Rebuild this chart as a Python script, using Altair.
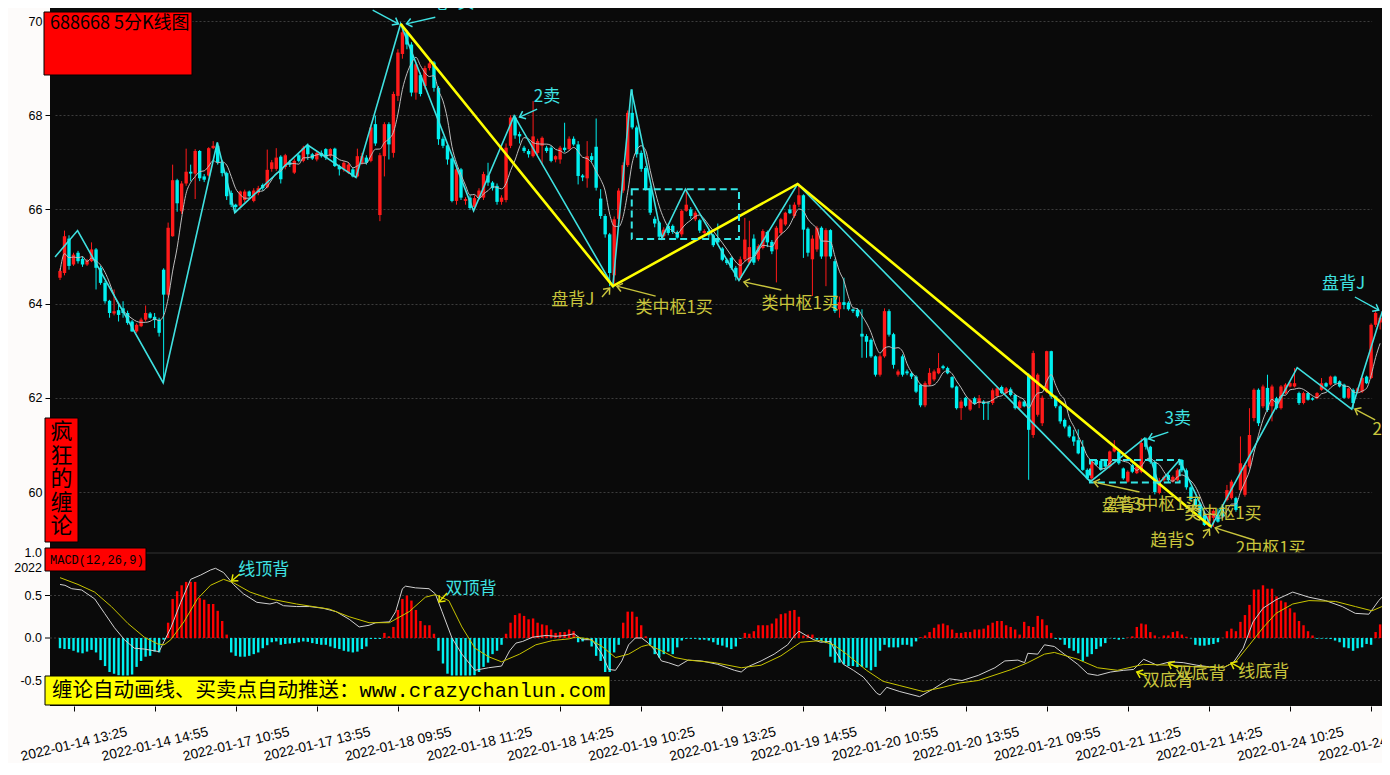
import math
import altair as alt
import pandas as pd

# ---------------- data ----------------
opens = [
    64.55, 64.65, 65.38, 64.83, 65.08, 64.95, 64.83, 64.90, 65.15, 64.76,
    64.44, 64.06, 63.79, 63.86, 63.90, 63.80, 63.62, 63.41, 63.52, 63.66,
    63.79, 63.72, 63.66, 64.72, 64.19, 65.43, 66.62, 65.96, 66.55, 66.80,
    66.76, 67.24, 66.70, 66.72, 67.30, 67.35, 67.00, 66.77, 66.35, 66.10,
    66.08, 66.20, 66.38, 66.18, 66.35, 66.52, 66.47, 66.86, 66.86, 67.12,
    66.90, 67.00, 66.78, 67.15, 67.03, 67.35, 67.17, 67.06, 67.20, 67.28,
    67.14, 67.29, 66.92, 66.85, 66.78, 66.85, 66.70, 66.99, 67.10, 67.03,
    67.81, 65.88, 67.13, 67.81, 67.20, 68.41, 69.30, 69.76, 69.50, 68.48,
    68.85, 68.62, 69.00, 69.12, 68.58, 67.50, 67.36, 67.08, 66.18, 66.85,
    66.18, 66.25, 66.05, 66.25, 66.25, 66.72, 66.57, 66.50, 66.16, 66.20,
    67.35, 67.95, 67.60, 67.31, 67.24, 67.13, 67.20, 67.35, 67.31, 67.31,
    67.06, 67.06, 67.31, 67.28, 67.50, 67.38, 66.72, 66.66, 67.13, 67.33,
    66.23, 65.86, 65.47, 64.60, 65.80, 66.40, 66.94, 68.05, 67.74, 67.20,
    66.88, 66.45, 65.80, 65.72, 65.43, 65.65, 65.65, 65.52, 65.47, 65.97,
    66.00, 65.79, 65.77, 65.50, 65.54, 65.45, 65.35, 65.17, 64.93, 64.97,
    64.76, 64.55, 64.94, 64.87, 65.38, 64.94, 65.18, 65.52, 65.31, 65.15,
    65.50, 65.68, 66.00, 65.86, 66.10, 66.30, 65.59, 64.94, 65.15, 65.61,
    65.00, 65.56, 64.90, 63.88, 64.03, 64.02, 63.88, 63.87, 63.36, 63.31,
    63.23, 62.88, 62.49, 62.88, 63.84, 63.35, 62.49, 62.88, 62.56, 62.52,
    62.45, 62.28, 61.84, 62.28, 62.39, 62.52, 62.67, 62.63, 62.44, 62.24,
    61.78, 62.00, 61.75, 61.99, 61.89, 61.92, 61.90, 61.89, 62.04, 62.23,
    62.10, 62.18, 62.06, 61.78, 61.92, 62.49, 61.21, 61.64, 61.46, 62.13,
    62.99, 62.03, 61.82, 61.53, 61.39, 61.18, 61.10, 60.96, 60.47, 60.29,
    60.68, 60.66, 60.68, 60.54, 60.86, 60.86, 60.50, 60.22, 60.57, 60.40,
    60.43, 61.14, 60.96, 60.64, 59.98, 60.25, 60.36, 60.22, 60.25, 60.68,
    60.46, 60.10, 59.85, 59.75, 59.50, 59.30, 59.45, 59.51, 59.69, 59.83,
    59.87, 59.87, 60.04, 59.94, 60.54, 61.57, 62.17, 61.82, 62.21, 61.82,
    61.99, 61.78, 62.10, 62.24, 62.24, 62.10, 61.89, 62.10, 61.99, 61.99,
    62.17, 62.31, 62.28, 62.45, 62.35, 62.28, 62.00, 62.17, 62.13, 62.13,
    62.45, 62.42, 63.55, 63.60,
]
closes = [
    64.69, 65.43, 64.80, 65.04, 64.90, 64.83, 64.91, 65.15, 64.76, 64.44,
    64.05, 63.80, 63.84, 63.76, 63.80, 63.59, 63.41, 63.55, 63.66, 63.80,
    63.70, 63.65, 63.38, 64.19, 65.61, 66.62, 66.13, 66.55, 66.80, 66.76,
    67.24, 66.66, 66.63, 67.30, 67.35, 67.00, 66.77, 66.28, 66.10, 66.05,
    66.38, 66.38, 66.28, 66.40, 66.45, 66.45, 66.84, 67.00, 67.10, 66.64,
    67.15, 66.95, 67.03, 67.03, 67.31, 67.17, 67.08, 67.20, 67.13, 67.10,
    67.28, 66.92, 66.85, 66.99, 66.95, 66.70, 67.13, 67.13, 66.99, 67.74,
    67.40, 67.15, 67.81, 67.38, 68.45, 69.33, 69.76, 69.50, 68.48, 69.08,
    68.45, 69.00, 69.10, 68.58, 67.49, 67.35, 67.06, 66.18, 66.85, 66.25,
    66.22, 66.03, 66.24, 66.40, 66.75, 66.57, 66.45, 66.16, 66.25, 67.31,
    67.95, 67.57, 67.55, 67.24, 67.17, 67.55, 67.45, 67.52, 67.24, 67.03,
    67.13, 67.31, 67.26, 67.50, 67.38, 66.71, 66.68, 67.13, 67.05, 66.46,
    65.86, 65.47, 64.65, 65.79, 66.40, 66.94, 68.05, 67.74, 67.17, 66.86,
    66.43, 65.93, 65.70, 65.42, 65.57, 65.50, 65.52, 65.40, 65.97, 66.10,
    65.86, 65.93, 65.55, 65.54, 65.45, 65.24, 65.30, 64.93, 64.86, 64.76,
    64.57, 64.94, 65.36, 65.20, 64.87, 65.22, 65.54, 65.30, 65.11, 65.61,
    65.79, 65.93, 65.92, 66.10, 66.30, 65.57, 65.08, 65.38, 65.61, 65.00,
    65.56, 65.00, 63.84, 64.03, 63.97, 63.88, 63.84, 63.73, 63.30, 63.19,
    62.88, 62.49, 62.88, 63.84, 63.34, 62.70, 62.56, 62.49, 62.52, 62.45,
    62.13, 61.84, 62.31, 62.53, 62.56, 62.63, 62.63, 62.52, 62.22, 61.78,
    61.92, 61.83, 61.95, 61.87, 61.99, 61.87, 61.88, 62.16, 62.20, 62.10,
    62.20, 62.06, 61.78, 61.92, 61.82, 61.32, 62.95, 62.49, 62.00, 62.99,
    62.03, 61.82, 61.50, 61.39, 61.18, 61.07, 60.82, 60.47, 60.29, 60.64,
    60.58, 60.47, 60.54, 60.86, 60.96, 60.61, 60.29, 60.43, 60.43, 60.54,
    61.04, 60.96, 60.64, 60.00, 60.25, 60.32, 60.25, 60.32, 60.46, 60.46,
    60.10, 59.85, 59.70, 59.45, 59.30, 59.50, 59.60, 59.37, 59.48, 60.04,
    60.22, 59.62, 60.61, 60.57, 61.21, 62.17, 61.46, 62.24, 61.74, 62.24,
    61.78, 62.24, 62.28, 62.31, 62.31, 61.89, 62.10, 61.96, 61.96, 62.10,
    62.31, 62.24, 62.45, 62.31, 62.24, 62.00, 62.20, 61.89, 62.20, 62.42,
    62.31, 63.55, 63.80, 63.70,
]
highs = [
    64.75, 65.55, 65.45, 65.08, 65.12, 65.00, 64.95, 65.30, 65.18, 64.80,
    64.48, 64.08, 64.30, 64.00, 64.05, 63.85, 63.65, 63.58, 63.70, 63.96,
    63.82, 63.80, 63.70, 64.75, 65.72, 66.95, 66.65, 66.60, 67.29, 66.95,
    67.28, 67.26, 66.75, 67.32, 67.45, 67.42, 67.05, 66.80, 66.40, 66.12,
    66.40, 66.42, 66.40, 66.45, 66.50, 66.55, 67.27, 67.05, 67.30, 67.15,
    67.18, 67.05, 67.08, 67.18, 67.35, 67.40, 67.20, 67.24, 67.25, 67.30,
    67.30, 67.31, 66.95, 67.02, 67.00, 66.88, 67.29, 67.20, 67.15, 67.80,
    67.99, 67.20, 67.85, 67.85, 68.50, 69.40, 69.94, 69.80, 69.55, 69.12,
    68.90, 69.05, 69.20, 69.15, 68.62, 67.55, 67.40, 67.10, 66.90, 66.88,
    66.26, 66.30, 66.30, 66.45, 66.80, 66.99, 66.60, 66.55, 66.30, 67.40,
    68.00, 68.00, 67.65, 67.35, 67.28, 68.30, 67.50, 67.55, 67.35, 67.35,
    67.15, 67.35, 67.84, 67.55, 67.55, 67.45, 66.75, 67.45, 67.20, 67.93,
    66.43, 65.90, 65.50, 65.85, 66.45, 67.00, 68.10, 68.55, 67.78, 67.25,
    66.92, 66.50, 65.85, 65.75, 65.62, 65.70, 65.68, 65.55, 66.00, 66.43,
    66.05, 65.97, 65.80, 65.58, 65.58, 65.48, 65.70, 65.20, 64.96, 65.00,
    64.80, 65.00, 65.82, 65.76, 65.47, 65.26, 65.58, 65.55, 65.35, 65.65,
    65.82, 65.95, 66.10, 66.15, 66.55, 66.32, 65.62, 65.45, 65.65, 65.64,
    65.60, 65.58, 64.95, 64.15, 64.55, 64.05, 63.90, 63.90, 63.88, 63.35,
    63.26, 62.90, 62.92, 63.90, 63.88, 63.38, 62.60, 62.92, 62.60, 62.55,
    62.48, 62.30, 62.35, 62.63, 62.60, 62.95, 62.70, 62.66, 62.46, 62.26,
    61.96, 62.02, 61.98, 62.02, 62.06, 61.95, 61.92, 62.20, 62.23, 62.26,
    62.23, 62.22, 62.08, 61.95, 61.95, 62.52, 63.00, 62.52, 62.05, 63.00,
    63.00, 62.05, 61.85, 61.56, 61.42, 61.32, 61.33, 61.10, 60.50, 60.68,
    60.70, 60.70, 60.70, 60.88, 61.10, 60.90, 60.52, 60.46, 60.60, 60.57,
    61.14, 61.16, 60.98, 60.68, 60.30, 60.35, 60.40, 60.35, 60.50, 60.70,
    60.50, 60.12, 59.90, 59.78, 59.55, 59.55, 59.65, 59.65, 59.72, 60.15,
    60.26, 59.90, 61.18, 60.62, 61.78, 62.20, 62.20, 62.28, 62.49, 62.28,
    62.02, 62.27, 62.31, 62.35, 62.63, 62.13, 62.13, 62.12, 62.01, 62.12,
    62.42, 62.33, 62.47, 62.47, 62.37, 62.30, 62.22, 62.20, 62.22, 62.45,
    62.47, 63.58, 63.84, 63.75,
]
lows = [
    64.50, 64.60, 64.72, 64.80, 64.85, 64.78, 64.80, 64.88, 64.30, 64.40,
    64.00, 63.70, 63.75, 63.62, 63.70, 63.55, 63.40, 63.38, 63.50, 63.62,
    63.68, 63.48, 63.30, 62.32, 64.15, 65.42, 65.95, 65.90, 66.50, 66.60,
    66.22, 66.60, 66.58, 66.70, 67.28, 66.95, 66.70, 66.20, 66.05, 65.93,
    66.05, 66.15, 66.25, 66.15, 66.30, 66.40, 66.45, 66.80, 66.82, 66.55,
    66.85, 66.90, 66.75, 67.00, 67.00, 67.05, 67.05, 67.02, 67.10, 67.05,
    67.10, 66.90, 66.72, 66.80, 66.75, 66.68, 66.68, 66.95, 66.95, 67.00,
    67.35, 65.75, 66.70, 67.06, 67.10, 68.30, 69.20, 69.40, 68.40, 68.33,
    68.40, 68.55, 68.95, 68.50, 67.37, 67.30, 66.95, 66.15, 66.10, 66.20,
    66.10, 65.99, 66.00, 66.20, 66.20, 66.50, 66.40, 66.10, 66.10, 66.15,
    67.30, 67.50, 67.40, 67.20, 67.10, 67.10, 67.15, 66.95, 67.20, 67.00,
    67.00, 66.97, 67.22, 67.25, 67.35, 66.53, 66.60, 66.46, 67.00, 66.40,
    65.80, 65.40, 64.37, 64.40, 65.75, 66.35, 66.90, 67.70, 67.10, 66.80,
    66.40, 65.88, 65.62, 65.39, 65.40, 65.45, 65.48, 65.38, 65.42, 65.95,
    65.80, 65.75, 65.50, 65.47, 65.40, 65.20, 65.25, 64.90, 64.82, 64.72,
    64.49, 64.50, 64.90, 64.85, 64.82, 64.90, 65.15, 65.20, 65.05, 64.45,
    65.45, 65.65, 65.90, 65.82, 66.05, 64.97, 65.00, 64.16, 65.10, 64.95,
    64.37, 64.95, 63.80, 63.70, 63.88, 63.85, 63.80, 63.70, 62.85, 62.85,
    62.85, 62.45, 62.45, 62.85, 63.30, 62.62, 62.45, 62.45, 62.48, 62.40,
    62.10, 61.80, 61.80, 62.25, 62.35, 62.50, 62.60, 62.50, 62.20, 61.75,
    61.53, 61.80, 61.72, 61.85, 61.78, 61.53, 61.53, 61.85, 62.00, 62.08,
    62.08, 62.03, 61.75, 61.75, 61.80, 60.26, 61.15, 61.60, 61.40, 62.10,
    61.98, 61.78, 61.45, 61.35, 61.15, 60.98, 60.80, 60.45, 60.26, 60.22,
    60.55, 60.45, 60.50, 60.50, 60.84, 60.58, 60.26, 60.20, 60.40, 60.38,
    60.40, 60.90, 60.60, 59.95, 59.95, 60.22, 60.20, 60.20, 60.22, 60.42,
    60.05, 59.80, 59.65, 59.40, 59.28, 59.26, 59.26, 59.35, 59.45, 59.80,
    59.84, 59.58, 60.00, 59.90, 60.50, 61.50, 61.40, 61.78, 61.70, 61.50,
    61.75, 61.75, 62.08, 62.22, 62.22, 61.85, 61.86, 61.94, 61.94, 61.97,
    62.15, 62.22, 62.26, 62.29, 62.22, 61.98, 61.98, 61.76, 62.10, 62.10,
    62.29, 62.40, 63.50, 63.45,
]
macd_hist = [
    -0.12, -0.13, -0.13, -0.15, -0.17, -0.18, -0.16, -0.14, -0.17, -0.26,
    -0.33, -0.40, -0.42, -0.44, -0.45, -0.45, -0.43, -0.34, -0.27, -0.22,
    -0.21, -0.16, -0.17, -0.02, 0.18, 0.46, 0.55, 0.62, 0.66, 0.66,
    0.66, 0.47, 0.45, 0.40, 0.40, 0.32, 0.20, 0.04, -0.17, -0.21,
    -0.22, -0.22, -0.21, -0.19, -0.17, -0.12, -0.085, -0.05, -0.04, -0.08,
    -0.07, -0.065, -0.06, -0.05, -0.04, -0.045, -0.06, -0.07, -0.08, -0.08,
    -0.10, -0.12, -0.13, -0.15, -0.16, -0.17, -0.16, -0.13, -0.10, -0.012,
    -0.012, -0.012, 0.06, 0.02, 0.13, 0.33, 0.46, 0.50, 0.44, 0.33,
    0.20, 0.15, 0.15, 0.05, -0.15, -0.30, -0.42, -0.48, -0.52, -0.55,
    -0.52, -0.48, -0.44, -0.40, -0.34, -0.29, -0.19, -0.15, -0.08, 0.05,
    0.18, 0.27, 0.29, 0.26, 0.22, 0.23, 0.18, 0.16, 0.15, 0.10,
    0.06, 0.07, 0.07, 0.10, 0.08, -0.05, -0.04, -0.02, -0.10, -0.21,
    -0.27, -0.40, -0.40, -0.17, -0.08, 0.18, 0.31, 0.31, 0.25, 0.15,
    0.02, -0.08, -0.19, -0.23, -0.19, -0.16, -0.19, -0.11, -0.03, -0.01,
    -0.01, -0.01, -0.02, -0.02, -0.03, -0.05, -0.08, -0.09, -0.11, -0.13,
    -0.10, -0.01, 0.06, 0.05, 0.08, 0.15, 0.15, 0.15, 0.17, 0.23,
    0.28, 0.29, 0.32, 0.33, 0.25, 0.03, 0.04, 0.04, -0.02, -0.04,
    -0.06, -0.22, -0.29, -0.29, -0.31, -0.33, -0.33, -0.34, -0.34, -0.35,
    -0.38, -0.34, -0.15, -0.08, -0.11, -0.11, -0.11, -0.08, -0.08, -0.10,
    -0.04, 0.01, 0.03, 0.07, 0.12, 0.16, 0.17, 0.15, 0.10, 0.06,
    0.06, 0.07, 0.07, 0.10, 0.10, 0.11, 0.15, 0.18, 0.20, 0.20,
    0.15, 0.13, 0.10, 0.04, 0.19, 0.14, 0.13, 0.26, 0.22, 0.15,
    0.06, -0.01, -0.02, -0.08, -0.12, -0.15, -0.18, -0.27, -0.22, -0.19,
    -0.13, -0.10, -0.06, -0.005, -0.01, -0.02, -0.01, 0.005, 0.02, 0.13,
    0.17, 0.16, 0.07, 0.03, 0.005, 0.03, 0.03, 0.07, 0.08, 0.04,
    0.015, -0.005, -0.08, -0.09, -0.09, -0.08, -0.07, -0.05, 0.003, 0.08,
    0.11, 0.08, 0.19, 0.27, 0.39, 0.57, 0.57, 0.62, 0.58, 0.58,
    0.49, 0.44, 0.42, 0.35, 0.30, 0.20, 0.15, 0.08, 0.03, -0.008,
    -0.008, -0.008, -0.012, -0.03, -0.05, -0.11, -0.12, -0.15, -0.12, -0.11,
    -0.07, -0.08, 0.07, 0.16,
]
dif_bar = [0, 1.1, 2.6, 4.8, 7.7, 9.9, 12.1, 14.3, 16.5, 18.7, 20.9, 22, 23.1, 24.6, 26.8, 29, 31.2, 33.4, 34.5,
           36.3, 38.5, 40.7, 43.7, 46.6, 48.1, 49.6, 52.5, 55.4, 58.4, 61.3, 64.2, 66.4, 68.6, 70.1, 73.1, 74.5,
           76, 76.7, 78.9, 81.9, 83.3, 84.8, 87, 89.2, 92.1, 95.1, 98, 99.8, 101.2, 102.7, 104.9, 107.9, 110.1,
           112.3, 114.1, 115.9, 118.1, 120.3, 121.8, 123.3, 124.7, 126.2, 127.7, 129.1, 130.6, 132.1, 133.5, 135,
           137.2, 139.4, 142.4, 146, 149.7, 151.2, 152.6, 155.6, 158.5, 161.5, 162.9, 164, 165.9, 167.3, 168.8,
           171, 171.7, 173.9, 176.1, 178.3, 181.3, 182, 183.5, 186.4, 190.8, 193.8, 197.4, 200.2, 203.8, 207.5,
           209.7, 212.6, 214.1, 214.8, 217, 218.5, 220.7, 222.9, 225.9, 228.1, 230.3, 233.2, 236.1, 238.3, 240.5,
           243.5, 246.4, 249.3, 252.3, 255.2, 258.2, 260.4, 262.6, 264.8, 267, 269.9, 273.6, 277.2, 280.9, 284.6,
           287.5, 290.5, 292.7, 293.4]
dif_val = [0.63, 0.62, 0.58, 0.565, 0.46, 0.29, 0.12, -0.02, -0.12, -0.13, -0.15, -0.16, -0.04, 0.12, 0.42, 0.69,
           0.74, 0.80, 0.82, 0.77, 0.63, 0.52, 0.42, 0.40, 0.42, 0.38, 0.37, 0.37, 0.35, 0.31, 0.22, 0.13, 0.15,
           0.18, 0.19, 0.31, 0.58, 0.61, 0.59, 0.58, 0.52, 0.31, 0.0, -0.19, -0.38, -0.35, -0.33, -0.15, -0.06,
           -0.04, 0.01, 0.03, 0.02, 0.03, 0.05, -0.02, -0.02, -0.19, -0.37, -0.38, -0.27, -0.08, 0.0, 0.0, -0.06,
           -0.15, -0.27, -0.29, -0.33, -0.26, -0.27, -0.31, -0.38, -0.40, -0.34, -0.27, -0.19, -0.08, 0.02, 0.08,
           0.02, -0.02, -0.05, -0.04, -0.12, -0.31, -0.38, -0.46, -0.65, -0.67, -0.58, -0.63, -0.69, -0.60, -0.48,
           -0.50, -0.44, -0.35, -0.27, -0.26, -0.29, -0.18, -0.19, -0.08, -0.10, -0.19, -0.31, -0.42, -0.44, -0.40,
           -0.38, -0.37, -0.25, -0.32, -0.28, -0.29, -0.32, -0.34, -0.35, -0.29, -0.12, 0.19, 0.35, 0.45, 0.54,
           0.48, 0.44, 0.37, 0.29, 0.28, 0.44, 0.48]
dea_bar = [0, 4, 7.7, 11.4, 15.1, 18.7, 21.7, 23.1, 24.6, 27.5, 30.5, 33.4, 36.3, 38.5, 42.2, 46.6, 52.5, 59.8,
           64.2, 68.6, 73.1, 77.5, 81.1, 83.3, 86.3, 89.2, 92.1, 95.1, 98, 102, 105.6, 109.3, 113, 114.4, 117.4,
           120.3, 123.3, 126.2, 129.1, 130.6, 133.5, 136.5, 139.4, 145.3, 151.2, 155.6, 160, 164.4, 168.8, 171.7,
           174.6, 179, 182.7, 186.4, 191.6, 196, 199.6, 203.8, 211.2, 214.8, 218.5, 220.7, 225.9, 230.3, 234.7,
           240.5, 246.4, 252.3, 258.2, 261.1, 264, 267, 269.9, 273.6, 277.2, 283.1, 287.5, 291.2, 293.4]
dea_val = [0.71, 0.63, 0.54, 0.37, 0.17, 0.01, -0.07, -0.08, -0.02, 0.19, 0.46, 0.62, 0.69, 0.65, 0.54, 0.46,
           0.40, 0.34, 0.25, 0.18, 0.18, 0.31, 0.48, 0.51, 0.44, 0.13, -0.12, -0.22, -0.28, -0.19, -0.08, -0.03,
           -0.01, 0.01, -0.01, -0.10, -0.23, -0.19, -0.10, -0.08, -0.15, -0.23, -0.26, -0.29, -0.35, -0.32, -0.21,
           -0.05, -0.03, -0.08, -0.19, -0.38, -0.51, -0.56, -0.63, -0.58, -0.53, -0.50, -0.37, -0.29, -0.19, -0.17,
           -0.25, -0.35, -0.38, -0.31, -0.32, -0.34, -0.35, -0.27, -0.08, 0.12, 0.29, 0.40, 0.44, 0.43, 0.37,
           0.32, 0.37]

# stroke (bi) vertices and segment vertices
bi_bar = [-1.1, 3.9, 22.9, 34.9, 38.8, 54.9, 65.7, 75.6, 91.8, 100.8, 122.7, 126.8, 133.6, 138.8, 150.7,
          163.7, 228.7, 240.7, 243.8, 248.5, 255.5, 274.6, 286.7, 293.5]
bi_price = [64.99, 65.55, 62.32, 67.42, 65.93, 67.37, 66.68, 69.94, 65.97, 67.99, 64.37, 68.55, 65.39, 66.43,
            64.49, 66.54, 60.22, 61.14, 60.17, 60.68, 59.26, 62.64, 61.76, 63.84]
seg_bar = [75.6, 122.7, 163.7, 255.5]
seg_price = [69.94, 64.37, 66.54, 59.26]

# pivot boxes
box_bar0 = [126.9, 228.6]
box_bar1 = [150.7, 248.5]
box_lo = [65.37, 60.20]
box_hi = [66.43, 60.68]

# x tick labels
tick_bars = [3, 21, 39, 57, 75, 93, 111, 129, 147, 165, 183, 201, 219, 237, 255, 273, 291]
tick_labels = ["2022-01-14 13:25", "2022-01-14 14:55", "2022-01-17 10:55", "2022-01-17 13:55",
               "2022-01-18 09:55", "2022-01-18 11:25", "2022-01-18 14:25", "2022-01-19 10:25",
               "2022-01-19 13:25", "2022-01-19 14:55", "2022-01-20 10:55", "2022-01-20 13:55",
               "2022-01-21 09:55", "2022-01-21 11:25", "2022-01-21 14:25", "2022-01-24 10:25",
               "2022-01-24 13:25"]

# annotations (price panel)
ann_text = ["盘背J", "5笔1卖", "2卖", "3卖", "盘背J",
            "盘背J", "类中枢1买", "类中枢1买", "盘背S", "2笔3中枢1买", "类中枢1买", "趋背S", "2中枢1买", "23买"]
ann_bar = [67.4, 86.1, 108.1, 248.1, 284.9, 113.8, 136.3, 164.3, 236.1, 242.7, 258.1, 246.9, 268.7, 295.3]
ann_price = [70.51, 70.38, 68.38, 61.56, 64.41, 64.07, 63.90, 64.00, 59.70, 59.72, 59.53, 58.96, 58.79, 61.32]
ann_kind = ["c", "c", "c", "c", "c", "y", "y", "y", "y", "y", "y", "y", "y", "y"]

# annotations (MACD panel)
mac_text = ["线顶背", "双顶背", "双底背", "双底背", "线底背"]
mac_bar = [45.2, 91.2, 246.0, 253.1, 267.2]
mac_val = [0.80, 0.576, -0.506, -0.42, -0.40]
mac_kind = ["c", "c", "y", "y", "y"]

# arrows: tail -> tip
arr_panel = ["p"] * 12 + ["m"] * 5
arr_kind = ["c", "c", "c", "c", "c", "y", "y", "y", "y", "y", "y", "y", "m", "m", "m", "m", "m"]
arr_b0 = [69.4, 83.3, 105.9, 246.0, 287.4, 120.3, 132.2, 160.1, 239.6, 253.7, 265.0, 291.9,
          39.9, 85.9, 241.2, 248.2, 262.1]
arr_v0 = [70.23, 70.08, 68.13, 61.27, 64.14, 64.14, 64.16, 64.29, 60.00, 59.02, 58.98, 61.53,
          0.753, 0.529, -0.447, -0.353, -0.353]
arr_b1 = [75.1, 76.9, 102.0, 241.6, 292.7, 122.0, 123.6, 151.8, 229.5, 255.1, 256.4, 287.4,
          38.1, 84.1, 239.0, 246.0, 259.9]
arr_v1 = [69.94, 69.94, 67.96, 61.13, 63.86, 64.33, 64.37, 64.46, 60.21, 59.21, 59.24, 61.76,
          0.671, 0.424, -0.40, -0.294, -0.294]

# ---------------- styling ----------------
RED = "#ff1a1a"
CYAN = "#00f0f0"
BI = "#3fe0e0"
ANN_C = "#3fe3e3"
ANN_Y = "#c8c43c"
ARR_M = "#e6e600"
CJK = "Noto Sans CJK SC"
BX = 4.54          # px per bar
PXP = 47.1         # px per price unit
PXM = 85.0         # px per macd unit
PW = 1332          # plot width (keeps the page free of overflow)

XS = alt.Scale(domain=[0, 290], range=[5, 5 + 290 * BX])
PY = alt.Scale(domain=[60, 70], range=[484, 13])
MY = alt.Scale(domain=[-0.5, 1.0], range=[672.5, 545])

label_expr = "[" + ",".join("'%s'" % t for t in tick_labels) + "][round((datum.value-3)/18)]"
XAX = alt.Axis(values=tick_bars, labelExpr=label_expr, title=None, grid=False, domain=False,
               ticks=True, tickColor="#000000", tickSize=5, labelAngle=-13.5, labelAlign="center",
               labelBaseline="middle", labelPadding=33, labelFont="Liberation Sans",
               labelFontSize=13.8, labelColor="#000000", labelOverlap=False, labelFlush=False)
YAX = alt.Axis(values=[60, 62, 64, 66, 68, 70], title=None, grid=True, gridColor="#3c3c3c",
               gridDash=[2, 2], gridWidth=1, domain=False, tickColor="#000000", tickSize=5,
               labelPadding=3, labelFont="Liberation Sans", labelFontSize=12.5,
               labelColor="#000000", format="d")


def X(field="i"):
    return alt.X(f"{field}:Q", scale=XS, axis=XAX)


n = len(opens)
df = pd.DataFrame({"i": list(range(n)), "open": opens, "close": closes, "high": highs,
                   "low": lows, "hist": macd_hist})

updown = alt.condition("datum.close >= datum.open", alt.value(RED), alt.value(CYAN))

wicks = alt.Chart(df).mark_rule(strokeWidth=1, clip=True).encode(
    x=X(), y=alt.Y("low:Q", scale=PY, axis=YAX), y2="high:Q", color=updown)
bodies = alt.Chart(df).mark_bar(size=3.4, clip=True).encode(
    x=X(), y=alt.Y("open:Q", scale=PY, axis=None), y2="close:Q", color=updown)
ma = alt.Chart(df).transform_window(ma="mean(close)", frame=[-4, 0], sort=[alt.SortField("i")]).mark_line(
    color="#bdbdbd", strokeWidth=1, interpolate="monotone", clip=True).encode(
    x=X(), y=alt.Y("ma:Q", scale=PY, axis=None))

bi_df = pd.DataFrame({"i": bi_bar, "p": bi_price, "k": list(range(len(bi_bar)))})
bi = alt.Chart(bi_df).mark_line(color=BI, strokeWidth=1.6, clip=True).encode(
    x=X(), y=alt.Y("p:Q", scale=PY, axis=None), order="k:Q")
seg_df = pd.DataFrame({"i": seg_bar, "p": seg_price, "k": list(range(len(seg_bar)))})
seg = alt.Chart(seg_df).mark_line(color="#ffff00", strokeWidth=2.6).encode(
    x=X(), y=alt.Y("p:Q", scale=PY, axis=None), order="k:Q")

box_df = pd.DataFrame({"i": box_bar0, "i2": box_bar1, "lo": box_lo, "hi": box_hi})
boxes = alt.Chart(box_df).mark_rect(filled=False, stroke="#35e5e5", strokeWidth=2,
                                    strokeDash=[7, 4]).encode(
    x=X(), x2="i2:Q", y=alt.Y("lo:Q", scale=PY, axis=None), y2="hi:Q")

ann_df = pd.DataFrame({"i": ann_bar, "p": ann_price, "t": ann_text,
                       "col": [ANN_C if k == "c" else ANN_Y for k in ann_kind]})
ann = alt.Chart(ann_df).mark_text(font=CJK, fontSize=17, align="center", baseline="middle", clip=True).encode(
    x=X(), y=alt.Y("p:Q", scale=PY, axis=None), text="t:N", color=alt.Color("col:N", scale=None))


def px_y(panel, v):
    return (484 - (v - 60) * PXP) if panel == "p" else (630 - v * PXM)


line_rows, head_rows = [], []
for k in range(len(arr_b0)):
    col = {"c": ANN_C, "y": ANN_Y, "m": ARR_M}[arr_kind[k]]
    line_rows.append({"a": k, "i": arr_b0[k], "v": arr_v0[k], "col": col, "pn": arr_panel[k], "o": 0})
    line_rows.append({"a": k, "i": arr_b1[k], "v": arr_v1[k], "col": col, "pn": arr_panel[k], "o": 1})
    dx = (arr_b1[k] - arr_b0[k]) * BX
    dy = px_y(arr_panel[k], arr_v1[k]) - px_y(arr_panel[k], arr_v0[k])
    ang = math.degrees(math.atan2(dy, dx)) % 360
    head_rows.append({"i": arr_b1[k], "v": arr_v1[k], "col": col, "pn": arr_panel[k], "ang": ang})
arr_line = pd.DataFrame(line_rows)
arr_head = pd.DataFrame(head_rows)
CHEV = "M -1 -0.8 L 0 0 L -1 0.8"


def arrow_layers(panel, scale):
    ld = arr_line[arr_line.pn == panel]
    hd = arr_head[arr_head.pn == panel]
    l1 = alt.Chart(ld).mark_line(strokeWidth=1.4, clip=True).encode(
        x=X(), y=alt.Y("v:Q", scale=scale, axis=None), detail="a:N", order="o:Q",
        color=alt.Color("col:N", scale=None))
    l2 = alt.Chart(hd).mark_point(shape=CHEV, filled=False, size=110, strokeWidth=1.5, opacity=1,
                                  clip=True).encode(
        x=X(), y=alt.Y("v:Q", scale=scale, axis=None), angle=alt.Angle("ang:Q", scale=None),
        color=alt.Color("col:N", scale=None))
    return [l1, l2]


one = pd.DataFrame({"k": [0]})

# MACD panel
macd_cover = alt.Chart(one).mark_rect(fill="#0a0a0a").encode(
    x=alt.value(0), x2=alt.value(PW), y=alt.value(545), y2=alt.value(698))
macd_top = alt.Chart(one).mark_rule(color="#262626", strokeWidth=1.5).encode(
    x=alt.value(0), x2=alt.value(PW), y=alt.value(545))
mg_df = pd.DataFrame({"v": [0.5, 0.0, -0.5]})
macd_grid = alt.Chart(mg_df).mark_rule(color="#3c3c3c", strokeDash=[2, 2], strokeWidth=1).encode(
    x=alt.value(0), x2=alt.value(PW), y=alt.Y("v:Q", scale=MY, axis=None))
hist = alt.Chart(df).mark_bar(size=2.4, clip=True).encode(
    x=X(), y=alt.Y("hist:Q", scale=MY, axis=None), y2=alt.datum(0),
    color=alt.condition("datum.hist >= 0", alt.value("#ff0000"), alt.value(CYAN)))
dif_df = pd.DataFrame({"i": dif_bar, "v": dif_val})
dea_df = pd.DataFrame({"i": dea_bar, "v": dea_val})
dif = alt.Chart(dif_df).mark_line(color="#d0d0d0", strokeWidth=1, clip=True).encode(
    x=X(), y=alt.Y("v:Q", scale=MY, axis=None), order="i:Q")
dea = alt.Chart(dea_df).mark_line(color="#c8c400", strokeWidth=1, clip=True).encode(
    x=X(), y=alt.Y("v:Q", scale=MY, axis=None), order="i:Q")
mac_df = pd.DataFrame({"i": mac_bar, "v": mac_val, "t": mac_text,
                       "col": [ANN_C if k == "c" else ANN_Y for k in mac_kind]})
mac_ann = alt.Chart(mac_df).mark_text(font=CJK, fontSize=17, align="center", baseline="middle").encode(
    x=X(), y=alt.Y("v:Q", scale=MY, axis=None), text="t:N", color=alt.Color("col:N", scale=None))

# MACD axis labels (left)
ml_df = pd.DataFrame({"v": [1.0, 0.8235, 0.5, 0.0, -0.5], "t": ["1.0", "2022", "0.5", "0.0", "-0.5"]})
macd_lab = alt.Chart(ml_df).mark_text(font="Liberation Sans", fontSize=12.5, align="right",
                                       baseline="middle", color="#000000").encode(
    x=alt.value(-8), y=alt.Y("v:Q", scale=MY, axis=None), text="t:N")
macd_tick = alt.Chart(ml_df).mark_rule(color="#000000", strokeWidth=1).encode(
    x=alt.value(-5), x2=alt.value(0), y=alt.Y("v:Q", scale=MY, axis=None))

# decoration boxes
title_box = alt.Chart(one).mark_rect(fill="#ff0000", stroke="#000000", strokeWidth=1).encode(
    x=alt.value(-6), x2=alt.value(142), y=alt.value(4), y2=alt.value(67))
title_txt = alt.Chart(one).mark_text(text="688668 5分K线图", font=CJK, fontSize=18, align="left",
                                      baseline="middle", color="#000000").encode(
    x=alt.value(0), y=alt.value(16))
side_box = alt.Chart(one).mark_rect(fill="#ff0000", stroke="#000000", strokeWidth=1).encode(
    x=alt.value(-5), x2=alt.value(28), y=alt.value(410), y2=alt.value(534))
side_df = pd.DataFrame({"t": list("疯狂的缠论"), "py": [424, 447.5, 471, 494.5, 518]})
side_txt = alt.Chart(side_df).mark_text(font=CJK, fontSize=22, align="center", baseline="middle",
                                         color="#000000").encode(
    x=alt.value(11.5), y=alt.Y("py:Q", scale=None), text="t:N")
macd_box = alt.Chart(one).mark_rect(fill="#ff0000", stroke="#000000", strokeWidth=1).encode(
    x=alt.value(-5), x2=alt.value(96), y=alt.value(540), y2=alt.value(563))
macd_txt = alt.Chart(one).mark_text(text="MACD(12,26,9)", font="Liberation Mono", fontSize=12,
                                     align="left", baseline="middle", color="#000000").encode(
    x=alt.value(0), y=alt.value(551.5))
ad_box = alt.Chart(one).mark_rect(fill="#ffff00", stroke="#000000", strokeWidth=1).encode(
    x=alt.value(-5), x2=alt.value(560), y=alt.value(668), y2=alt.value(697))
ad_txt = alt.Chart(one).mark_text(text="缠论自动画线、买卖点自动推送：www.crazychanlun.com",
                                   font="Liberation Mono, Noto Sans CJK SC", fontSize=20.5,
                                   align="left", baseline="middle", color="#000000").encode(
    x=alt.value(2), y=alt.value(683))

layers = [wicks, bodies, ma, bi, seg, boxes, ann] + arrow_layers("p", PY) + [
    macd_cover, macd_top, macd_grid, hist, dif, dea, mac_ann] + arrow_layers("m", MY) + [
    macd_tick, macd_lab, ad_box, ad_txt, title_box, title_txt, side_box, side_txt, macd_box, macd_txt]

chart = alt.layer(*layers).resolve_scale(y="independent").properties(
    width=PW, height=698,
    autosize=alt.AutoSizeParams(type="none"),
    padding={"left": 42, "top": 0, "right": 0, "bottom": 57},
    background="#fdfbfa",
).configure_view(fill="#0a0a0a", stroke=None)

chart.save("out.html", embed_options={"renderer": "svg", "actions": False})
